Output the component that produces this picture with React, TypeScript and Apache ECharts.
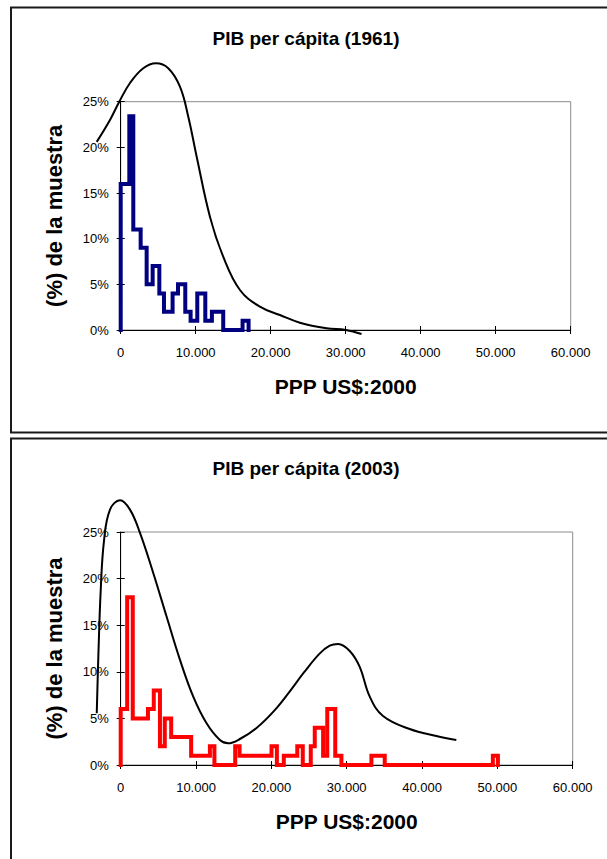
import React, { useEffect, useRef } from "react";
import * as echarts from "echarts";

// ---- 1961 histogram (bin edges in PPP US$ 2000, share of sample in %) ----
const hist1961Edges = [0, 1150, 1680, 2660, 3460, 4260, 5150, 5770, 6920, 7640, 8610, 9320, 10210, 11280, 12160, 13670, 16250, 17050];
const hist1961Pct = [16, 23.4, 11, 9, 5, 7, 4, 2, 4, 5, 2, 1, 4, 1, 2, 0, 1];

// ---- 1961 density curve ----
const curve1961X = [-3200, -1430, -190, 1240, 3010, 4700, 6340, 7900, 9010, 10130, 11900, 13670, 15900, 18560, 21230, 23890, 27450, 30020, 32110];
const curve1961Y = [20.6, 23.0, 25.0, 27.05, 28.66, 29.2, 28.66, 26.64, 23.36, 18.98, 12.41, 8.03, 4.38, 2.55, 1.64, 0.8, 0.19, 0, -0.44];

// ---- 2003 histogram ----
const hist2003Edges = [0, 860, 1600, 3620, 4390, 5210, 5850, 6700, 9350, 11840, 12440, 15200, 15780, 20020, 20730, 21650, 23440, 24170, 25230, 25760, 26870, 27420, 28480, 29300, 33280, 35050, 49400, 50070];
const hist2003Pct = [6, 18, 5, 6, 8, 2, 5, 3, 1, 2, 0, 2, 1, 2, 0, 1, 2, 0, 2, 4, 1, 6, 1, 0, 1, 0, 1];

// ---- 2003 density curve ----
const curve2003X = [-3180, -2970, -2650, -2210, -1420, -90, 1230, 2560, 4320, 6100, 7860, 9630, 11400, 13170, 14270, 15820, 18030, 20300, 22400, 24300, 26400, 27750, 28850, 30400, 31730, 33060, 34820, 38360, 41900, 44550];
const curve2003Y = [5.55, 11.6, 18.8, 24.1, 27.4, 28.4, 27.4, 24.9, 20.6, 15.9, 11.3, 7.33, 4.47, 2.68, 2.33, 2.79, 3.97, 5.75, 7.85, 9.9, 11.95, 12.8, 12.98, 12.23, 10.52, 7.33, 5.26, 3.86, 3.11, 2.68];

const titles = ["PIB per cápita (1961)", "PIB per cápita (2003)"];
const xAxisTitle = "PPP US$:2000";
const yAxisTitle = "(%) de la muestra";

function stepPoints(edges: number[], pct: number[]): number[][] {
  const pts: number[][] = [[edges[0], 0]];
  for (let i = 0; i < pct.length; i++) {
    pts.push([edges[i], pct[i]]);
    pts.push([edges[i + 1], pct[i]]);
  }
  pts.push([edges[edges.length - 1], 0]);
  return pts;
}

function zip(xs: number[], ys: number[]): number[][] {
  return xs.map((x, i) => [x, ys[i]]);
}

const fmtThousands = (v: number) => String(v).replace(/\B(?=(\d{3})+(?!\d))/g, ".");

const FONT = "'Liberation Sans', Arial, sans-serif";

export default function App() {
  const ref = useRef<HTMLDivElement>(null);
  useEffect(() => {
    if (!ref.current) return;
    const chart = echarts.init(ref.current, undefined, { renderer: "svg" });

    const X_MAX = 60000;
    const X_EXT = -10000; // extended range so the density curves can start left of 0
    const grids = [
      { left: 120.7, top: 101.7, width: 450, height: 228.3 },
      { left: 120.7, top: 532, width: 452, height: 233 },
    ];
    const extGrids = grids.map((g) => {
      const pxPer = g.width / X_MAX;
      return { left: g.left + X_EXT * pxPer, top: g.top, width: g.width - X_EXT * pxPer, height: g.height };
    });

    const mainX = (gi: number) => ({
      type: "value",
      gridIndex: gi,
      position: "bottom",
      min: 0,
      max: X_MAX,
      interval: 10000,
      name: xAxisTitle,
      nameLocation: "middle",
      nameGap: 46,
      nameTextStyle: { fontFamily: FONT, fontSize: 21, fontWeight: "bold", color: "#000" },
      axisLine: { show: true, lineStyle: { color: "#000", width: 1 } },
      axisTick: { show: true, inside: false, length: 4, lineStyle: { color: "#000" } },
      axisLabel: { margin: 16, fontFamily: FONT, fontSize: 13, color: "#000", formatter: (v: number) => fmtThousands(v) },
      splitLine: { show: false },
    });
    const innerX = (gi: number) => ({
      type: "value",
      gridIndex: gi,
      position: "bottom",
      min: 0,
      max: X_MAX,
      interval: 10000,
      axisLine: { show: false },
      axisTick: { show: true, inside: true, length: 4, lineStyle: { color: "#000" } },
      axisLabel: { show: false },
      splitLine: { show: false },
    });
    const extX = (gi: number) => ({
      type: "value",
      gridIndex: gi,
      show: false,
      min: X_EXT,
      max: X_MAX,
      splitLine: { show: false },
    });
    const mainY = (gi: number) => ({
      type: "value",
      gridIndex: gi,
      position: "left",
      min: 0,
      max: 25,
      interval: 5,
      name: yAxisTitle,
      nameLocation: "middle",
      nameGap: 55,
      nameTextStyle: { fontFamily: FONT, fontSize: 22, fontWeight: "bold", color: "#000" },
      axisLine: { show: true, lineStyle: { color: "#000", width: 1 } },
      axisTick: { show: true, inside: false, length: 4, lineStyle: { color: "#000" } },
      axisLabel: { margin: 12, fontFamily: FONT, fontSize: 13, color: "#000", formatter: "{value}%" },
      splitLine: { show: false },
    });
    const innerY = (gi: number) => ({
      type: "value",
      gridIndex: gi,
      position: "left",
      min: 0,
      max: 25,
      interval: 5,
      axisLine: { show: false },
      axisTick: { show: true, inside: true, length: 4, lineStyle: { color: "#000" } },
      axisLabel: { show: false },
      splitLine: { show: false },
    });
    const extY = (gi: number) => ({
      type: "value",
      gridIndex: gi,
      show: false,
      min: 0,
      max: 25,
      splitLine: { show: false },
    });

    const histSeries = (ai: number, pts: number[][], color: string) => ({
      type: "line",
      xAxisIndex: ai,
      yAxisIndex: ai,
      data: pts,
      symbol: "none",
      showSymbol: false,
      clip: false,
      z: 3,
      lineStyle: { color, width: 4, join: "miter", cap: "square" },
      silent: true,
    });
    const curveSeries = (ai: number, pts: number[][]) => ({
      type: "line",
      xAxisIndex: ai,
      yAxisIndex: ai,
      data: pts,
      symbol: "none",
      showSymbol: false,
      smooth: 0.4,
      clip: false,
      z: 4,
      lineStyle: { color: "#000", width: 2 },
      silent: true,
    });

    const option: any = {
      animation: false,
      backgroundColor: "#fff",
      grid: [
        ...grids.map((g) => ({ ...g, show: true, borderColor: "#8c8c8c", borderWidth: 1, backgroundColor: "transparent", containLabel: false })),
        ...extGrids.map((g) => ({ ...g, show: false, containLabel: false })),
      ],
      xAxis: [mainX(0), mainX(1), innerX(0), innerX(1), extX(2), extX(3)],
      yAxis: [mainY(0), mainY(1), innerY(0), innerY(1), extY(2), extY(3)],
      series: [
        histSeries(0, stepPoints(hist1961Edges, hist1961Pct), "#000080"),
        curveSeries(4, zip(curve1961X, curve1961Y)),
        histSeries(1, stepPoints(hist2003Edges, hist2003Pct), "#ff0000"),
        curveSeries(5, zip(curve2003X, curve2003Y)),
      ],
      graphic: [
        { type: "rect", silent: true, z: 10, shape: { x: 11, y: 7.5, width: 700, height: 425 }, style: { fill: "none", stroke: "#1a1a1a", lineWidth: 2 } },
        { type: "rect", silent: true, z: 10, shape: { x: 11, y: 438.5, width: 700, height: 600 }, style: { fill: "none", stroke: "#1a1a1a", lineWidth: 2 } },
        { type: "text", silent: true, z: 10, x: 306, y: 38, style: { text: titles[0], font: `bold 19px ${FONT}`, fill: "#000", align: "center", verticalAlign: "middle" } },
        { type: "text", silent: true, z: 10, x: 306, y: 468.5, style: { text: titles[1], font: `bold 19px ${FONT}`, fill: "#000", align: "center", verticalAlign: "middle" } },
      ],
    };
    chart.setOption(option);
    return () => chart.dispose();
  }, []);
  return <div ref={ref} style={{ position: "absolute", left: 0, top: 0, width: 607, height: 859, background: "#fff" }} />;
}
